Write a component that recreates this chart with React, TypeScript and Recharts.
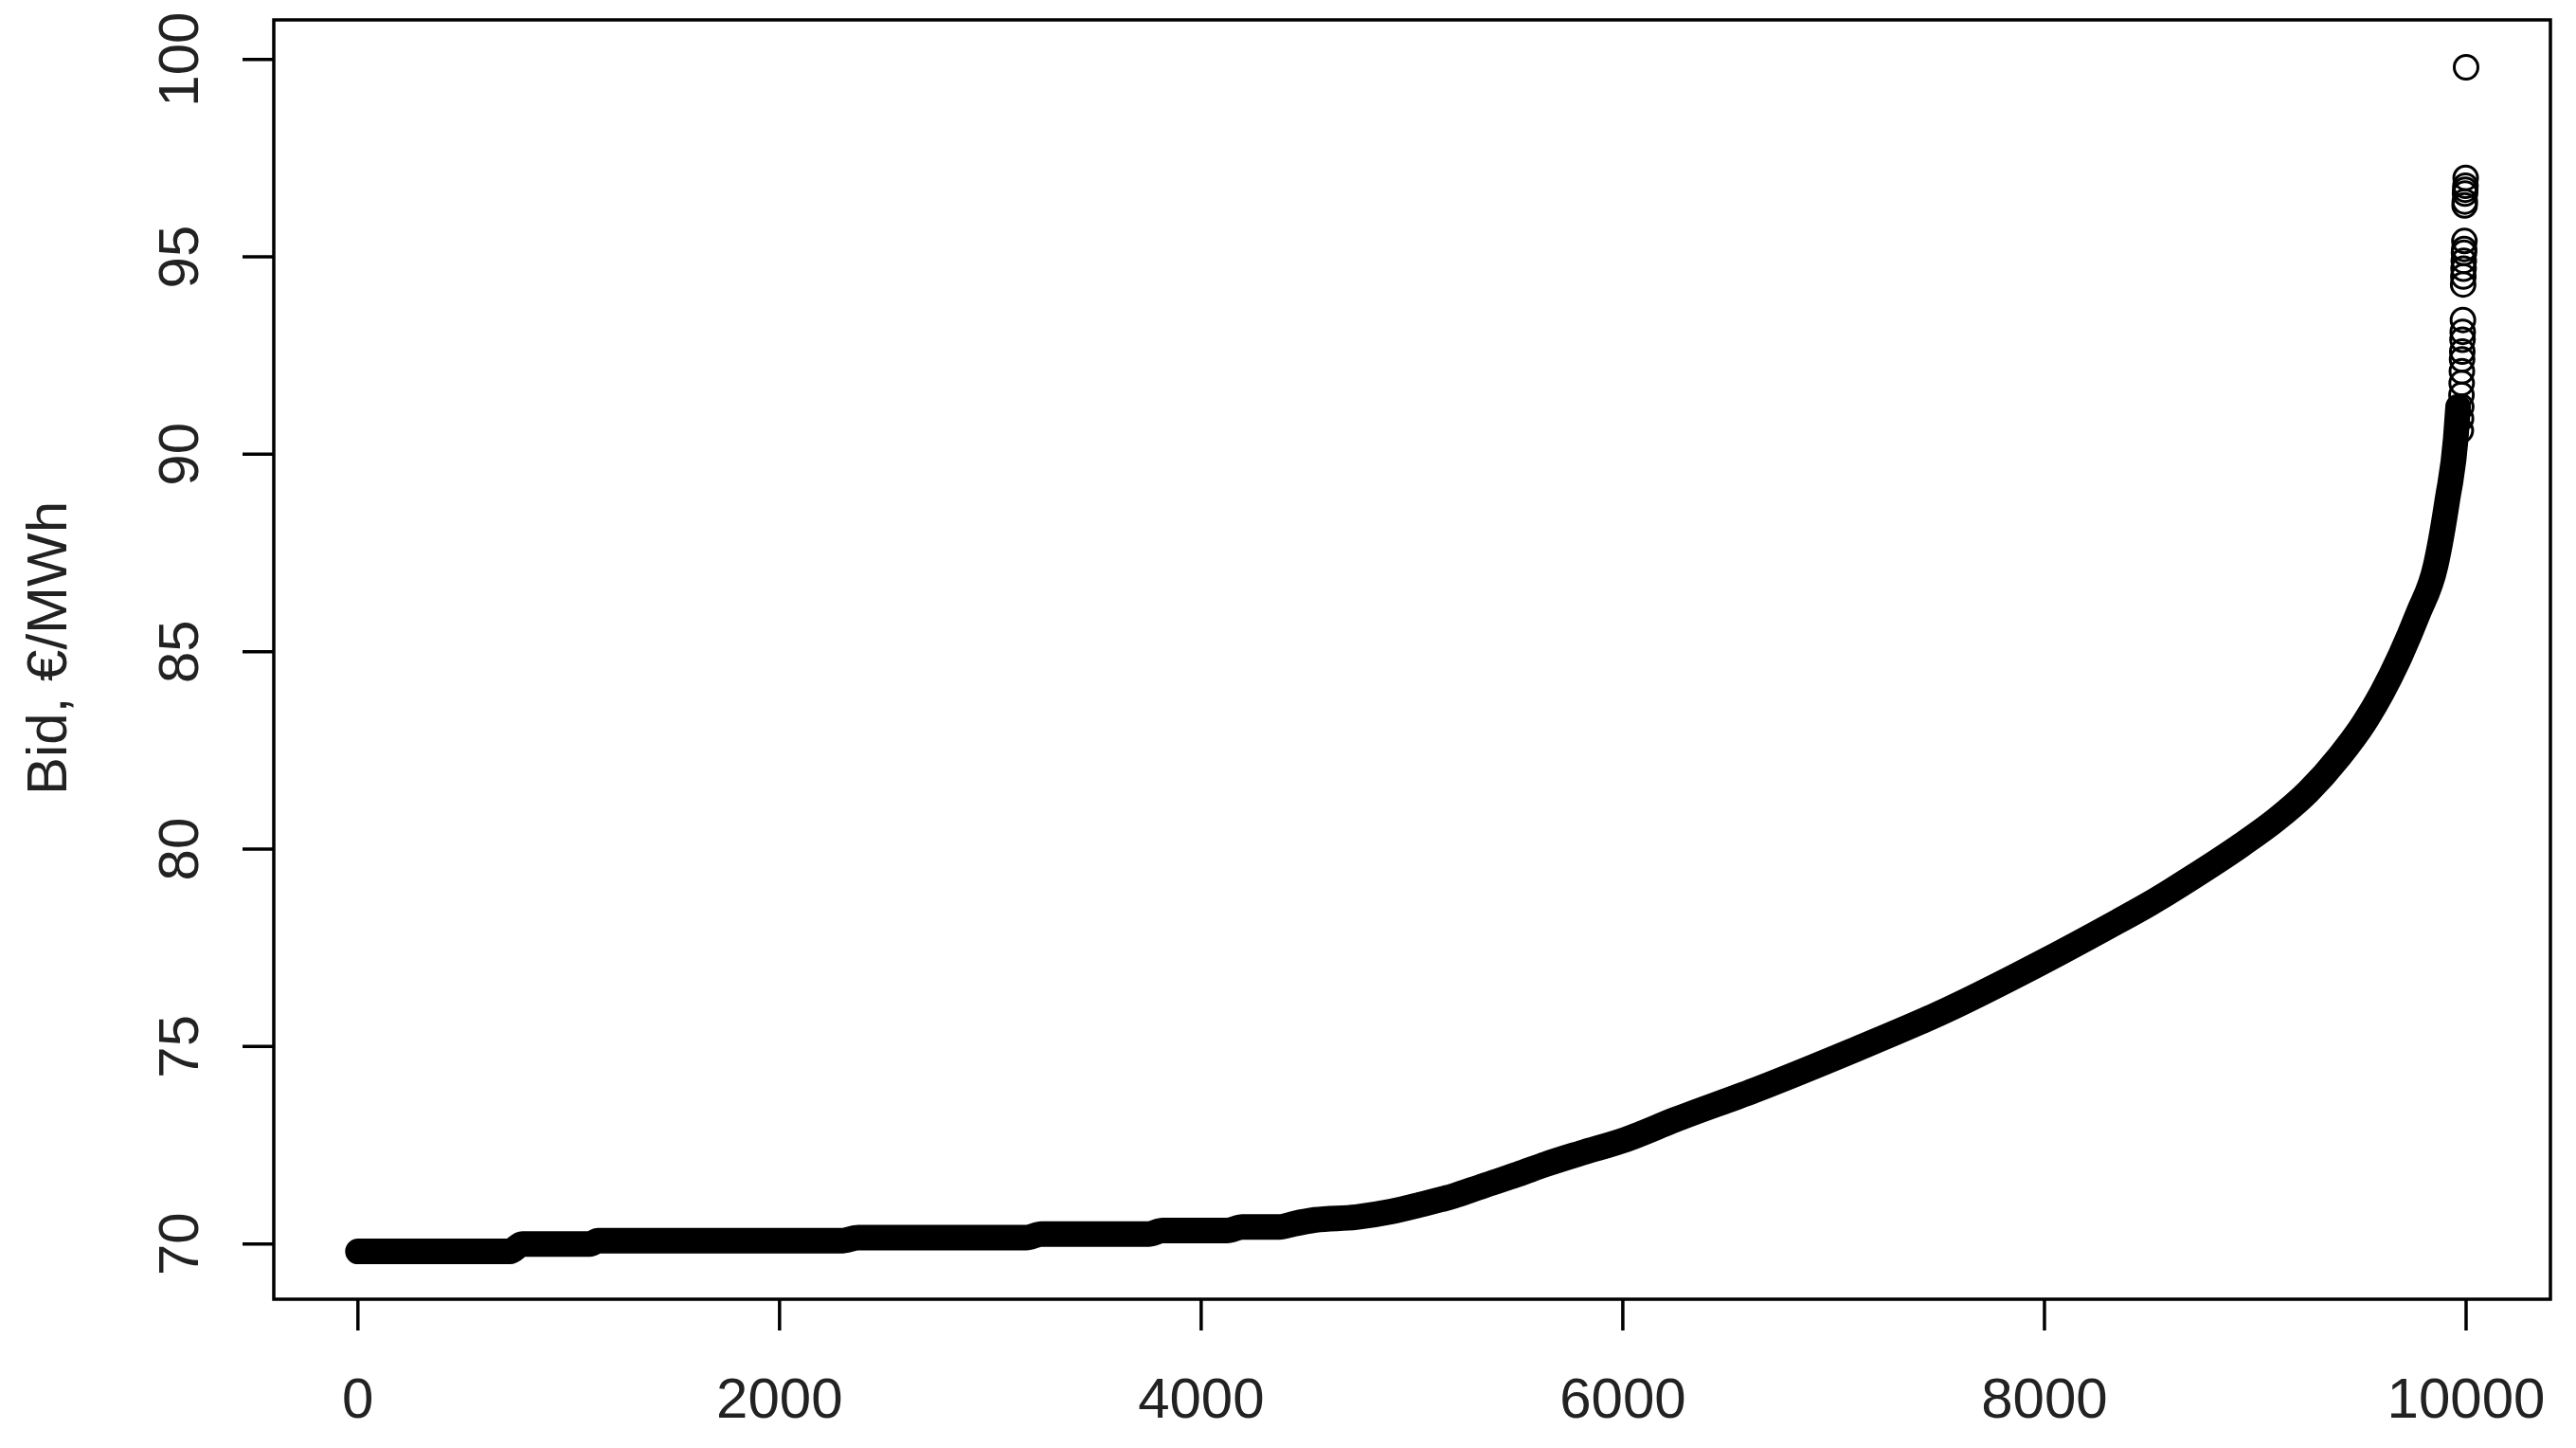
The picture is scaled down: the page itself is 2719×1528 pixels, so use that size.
import { ComposedChart, Line, Scatter, XAxis, YAxis, ReferenceArea } from 'recharts'

// sorted bids (rank -> €/MWh)
const bandRank = [
  0, 720, 780, 1100, 1140, 2290, 2374, 3170, 3242, 3750, 3817, 4123, 4195, 4371, 4438, 4541, 4735, 4900,
  5036, 5200, 5337, 5500, 5635, 5800, 6011, 6250, 6624, 7073, 7523, 7973, 8349, 8500, 8700, 8933, 9100,
  9250, 9400, 9517, 9600, 9688, 9772, 9856, 9910, 9951, 9962,
]
const bandBid = [
  69.81, 69.81, 70.0, 70.0, 70.08, 70.08, 70.16, 70.16, 70.25, 70.25, 70.34, 70.34, 70.43, 70.43, 70.51,
  70.61, 70.68, 70.82, 70.99, 71.22, 71.47, 71.76, 72.02, 72.3, 72.64, 73.15, 73.89, 74.86, 75.89, 77.09,
  78.17, 78.62, 79.28, 80.1, 80.75, 81.45, 82.35, 83.2, 83.95, 84.9, 85.96, 87.19, 88.8, 90.4, 91.2,
]

// the highest bids, where single circles can be told apart
const topRank = [
  9975, 9976, 9977, 9978, 9979, 9980, 9981, 9982, 9983, 9984, 9985, 9986, 9987, 9988, 9989, 9990, 9991,
  9992, 9993, 9994, 9995, 9996, 9997, 9998, 10000,
]
const topBid = [
  90.6, 90.9, 91.2, 91.5, 91.8, 92.1, 92.4, 92.6, 92.9, 93.1, 93.4, 94.3, 94.5, 94.7, 94.9, 95.1, 95.2,
  95.4, 96.3, 96.4, 96.6, 96.7, 96.8, 97.0, 99.8,
]

const xTicks = [0, 2000, 4000, 6000, 8000, 10000]
const yTicks = [70, 75, 80, 85, 90, 95, 100]

const bandData = bandRank.map((x, i) => ({ x, y: bandBid[i] }))
const topData = topRank.map((x, i) => ({ x, y: topBid[i] }))

const FONT = '"Liberation Sans", Arial, Helvetica, sans-serif'
const INK = '#222'

const XTick = (props: any) => {
  const { x, y, payload } = props
  return (
    <text x={x} y={y + 92} textAnchor="middle" fontSize={60} fontFamily={FONT} fill={INK}>
      {payload.value}
    </text>
  )
}

const YTick = (props: any) => {
  const { x, y, payload } = props
  return (
    <text
      x={x}
      y={y}
      transform={`rotate(-90 ${x} ${y})`}
      textAnchor="middle"
      fontSize={60}
      fontFamily={FONT}
      fill={INK}
    >
      {payload.value}
    </text>
  )
}

const YTitle = () => (
  <text
    x={70}
    y={684}
    transform="rotate(-90 70 684)"
    textAnchor="middle"
    fontSize={60}
    fontFamily={FONT}
    fill={INK}
  >
    Bid, €/MWh
  </text>
)

const Ring = (props: any) => (
  <circle cx={props.cx} cy={props.cy} r={12.5} fill="none" stroke="#000" strokeWidth={3} />
)

export default function App() {
  return (
    <div style={{ width: 2719, height: 1528, background: '#fff' }}>
      <style>{'body{margin:0;overflow:hidden;background:#fff}'}</style>
      <ComposedChart width={2719} height={1528} margin={{ top: 21, right: 27, bottom: 7, left: 89 }}>
        <XAxis
          type="number"
          dataKey="x"
          domain={[-399, 10400]}
          ticks={xTicks}
          allowDataOverflow
          height={150}
          axisLine={false}
          tickLine={{ stroke: '#000', strokeWidth: 3.5 }}
          tickSize={33}
          tickMargin={0}
          tick={<XTick />}
          interval={0}
        />
        <YAxis
          type="number"
          dataKey="y"
          domain={[68.6, 101]}
          ticks={yTicks}
          allowDataOverflow
          width={200}
          axisLine={false}
          tickLine={{ stroke: '#000', strokeWidth: 3.5 }}
          tickSize={33}
          tickMargin={47}
          tick={<YTick />}
          interval={0}
          label={<YTitle />}
        />
        <ReferenceArea
          x1={-399}
          x2={10400}
          y1={68.6}
          y2={101}
          fill="none"
          stroke="#000"
          strokeWidth={3.5}
          ifOverflow="visible"
        />
        <Line
          data={bandData}
          dataKey="y"
          type="monotone"
          stroke="#000"
          strokeWidth={27}
          strokeLinecap="round"
          strokeLinejoin="round"
          dot={false}
          activeDot={false}
          isAnimationActive={false}
        />
        <Scatter data={topData} dataKey="y" shape={<Ring />} isAnimationActive={false} />
      </ComposedChart>
    </div>
  )
}
